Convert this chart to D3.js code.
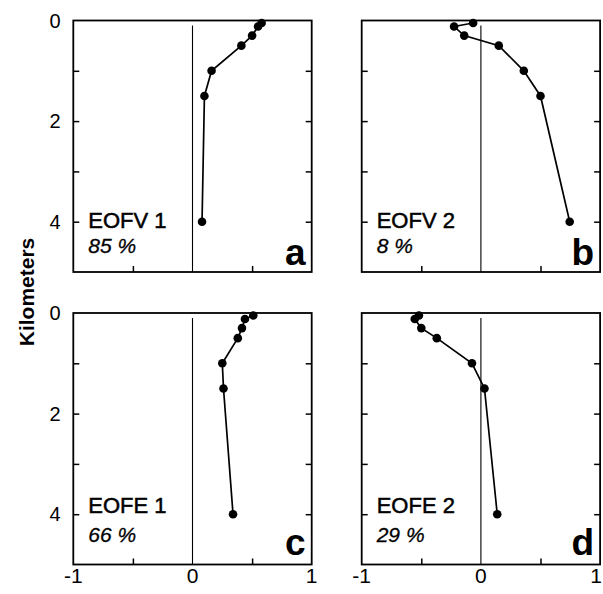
<!DOCTYPE html>
<html>
<head>
<meta charset="utf-8">
<script src="https://cdn.jsdelivr.net/npm/d3@7"></script>
<style>
  body { margin: 0; background: #fff; }
  svg { display: block; font-family: "Liberation Sans", Arial, sans-serif; }
</style>
</head>
<body>
<div id="chart"></div>
<script>
// depth of each point (km) and EOF amplitudes
const depth = [0.05, 0.12, 0.3, 0.5, 1, 1.5, 4];
const eofv1 = [0.58, 0.55, 0.50, 0.41, 0.16, 0.10, 0.08];
const eofv2 = [-0.065, -0.225, -0.14, 0.15, 0.36, 0.50, 0.745];
const eofe1 = [0.51, 0.44, 0.415, 0.38, 0.25, 0.26, 0.34];
const eofe2 = [-0.52, -0.555, -0.50, -0.37, -0.075, 0.03, 0.137];

const panelNames = ["EOFV 1", "EOFV 2", "EOFE 1", "EOFE 2"];
const percents = ["85 %", "8 %", "66 %", "29 %"];
const letters = ["a", "b", "c", "d"];
const yTickLabels = [0, 2, 4];
const xTickLabels = ["-1", "0", "1"];
const xTickValues = [-1, 0, 1];

const series = [eofv1, eofv2, eofe1, eofe2];

const W = 603, H = 594;
const svg = d3.select("#chart").append("svg")
  .attr("width", W)
  .attr("height", H);

const lefts = [73.3, 361.7];
const tops = [20.5, 313];
const pw = 238.4, ph = 251.5;
// text baselines differ a little between the two rows
const nameOff = [207.5, 199.5];
const pctOff = [232.5, 228.5];
const letterOff = [244.5, 242];

series.forEach(function (vals, i) {
  const col = i % 2, row = Math.floor(i / 2);
  const x0 = lefts[col], y0 = tops[row];

  const x = d3.scaleLinear().domain([-1, 1]).range([x0, x0 + pw]);
  const y = d3.scaleLinear().domain([0, 5]).range([y0, y0 + ph]);

  const g = svg.append("g");

  // inward ticks
  g.append("g")
    .attr("transform", "translate(" + x0 + ",0)")
    .call(d3.axisLeft(y).tickValues([1, 2, 3, 4]).tickSize(-6).tickSizeOuter(0).tickFormat(""))
    .call(function (a) { a.select(".domain").remove(); })
    .selectAll("line").attr("stroke-width", 1.5);
  g.append("g")
    .attr("transform", "translate(" + (x0 + pw) + ",0)")
    .call(d3.axisRight(y).tickValues([1, 2, 3, 4]).tickSize(-6).tickSizeOuter(0).tickFormat(""))
    .call(function (a) { a.select(".domain").remove(); })
    .selectAll("line").attr("stroke-width", 1.5);
  g.append("g")
    .attr("transform", "translate(0," + (y0 + ph) + ")")
    .call(d3.axisBottom(x).tickValues([-0.5, 0.5]).tickSize(-6).tickSizeOuter(0).tickFormat(""))
    .call(function (a) { a.select(".domain").remove(); })
    .selectAll("line").attr("stroke-width", 1.5);

  // zero line
  g.append("line")
    .attr("x1", x(0)).attr("x2", x(0))
    .attr("y1", y(0.1)).attr("y2", y(5))
    .attr("stroke", "#000")
    .attr("stroke-width", 1.1);

  // frame
  g.append("rect")
    .attr("x", x0).attr("y", y0)
    .attr("width", pw).attr("height", ph)
    .attr("fill", "none")
    .attr("stroke", "#000")
    .attr("stroke-width", 1.8);

  const pts = depth.map(function (d, k) { return [vals[k], d]; });

  const line = d3.line()
    .x(function (p) { return x(p[0]); })
    .y(function (p) { return y(p[1]); });

  g.append("path")
    .datum(pts)
    .attr("d", line)
    .attr("fill", "none")
    .attr("stroke", "#000")
    .attr("stroke-width", 1.7);

  g.selectAll("circle")
    .data(pts)
    .enter().append("circle")
    .attr("cx", function (p) { return x(p[0]); })
    .attr("cy", function (p) { return y(p[1]); })
    .attr("r", 4.3)
    .attr("fill", "#000");

  g.append("text")
    .attr("x", x0 + 15)
    .attr("y", y0 + nameOff[row])
    .attr("font-size", 22)
    .attr("stroke", "#000")
    .attr("stroke-width", 0.5)
    .text(panelNames[i]);

  g.append("text")
    .attr("x", x0 + 15)
    .attr("y", y0 + pctOff[row])
    .attr("font-size", 21)
    .attr("font-style", "italic")
    .attr("stroke", "#000")
    .attr("stroke-width", 0.3)
    .text(percents[i]);

  g.append("text")
    .attr("x", x0 + pw - 6)
    .attr("y", y0 + letterOff[row])
    .attr("text-anchor", "end")
    .attr("font-size", 37)
    .attr("font-weight", "bold")
    .text(letters[i]);

  // depth labels on the left panels
  if (col === 0) {
    g.selectAll(".ylab")
      .data(yTickLabels)
      .enter().append("text")
      .attr("x", 55)
      .attr("y", function (d) { return y(d); })
      .attr("dy", "0.36em")
      .attr("text-anchor", "middle")
      .attr("font-size", 20)
      .text(function (d) { return d; });
  }

  // value labels under the bottom panels
  if (row === 1) {
    g.selectAll(".xlab")
      .data(xTickValues)
      .enter().append("text")
      .attr("x", function (d) { return Math.min(x(d), W - 7); })
      .attr("y", 583)
      .attr("text-anchor", "middle")
      .attr("font-size", 21)
      .text(function (d, k) { return xTickLabels[k]; });
  }
});

svg.append("text")
  .attr("transform", "translate(34,292) rotate(-90)")
  .attr("text-anchor", "middle")
  .attr("font-size", 21)
  .attr("font-weight", "bold")
  .text("Kilometers");
</script>
</body>
</html>
